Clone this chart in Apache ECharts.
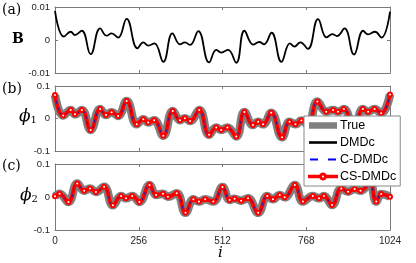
<!DOCTYPE html>
<html><head><meta charset="utf-8">
<script src="https://cdn.jsdelivr.net/npm/echarts@6/dist/echarts.min.js"></script>
<style>html,body{margin:0;padding:0;background:#fff}#c{width:416px;height:263px}</style>
</head><body><div id="c"></div><script>
// x ticks
const xTicks = [0, 256, 512, 768, 1024];
const yTicksB = [-0.01, 0, 0.01];
const yTicksPhi = [-0.1, 0, 0.1];
const legendNames = ['True', 'DMDc', 'C-DMDc', 'CS-DMDc'];

// Panel (a): B (read key points: index, value)
const bIdx = [0, 27, 48, 61, 82, 109, 138, 158, 173, 193, 219, 252, 270, 285, 304, 331, 359, 382, 397, 413, 438, 471, 493, 508, 529, 554, 579, 606, 624, 639, 662, 692, 718, 732, 750, 773, 804, 830, 848, 862, 885, 914, 942, 957, 978, 998, 1024];
const bVal = [0.0088, 0.0010, 0.0025, 0.0015, 0.0028, -0.0043, 0.0035, 0.0013, 0.0020, 0.0007, 0.0064, -0.0025, -0.0007, -0.0017, -0.0010, -0.0066, 0.0020, -0.0013, -0.0007, -0.0015, 0.0027, -0.0068, -0.0030, -0.0038, -0.0030, -0.0069, 0.0028, -0.0014, -0.0006, -0.0013, 0.0022, -0.0066, -0.0010, -0.0020, -0.0007, -0.0027, 0.0063, 0.0008, 0.0018, 0.0012, 0.0035, -0.0044, 0.0028, 0.0017, 0.0025, 0.0007, 0.0086];

// Panel (b): phi_1
const p1Idx = [0, 25, 48, 61, 82, 109, 138, 156, 173, 193, 219, 250, 270, 285, 303, 331, 360, 382, 397, 413, 441, 471, 493, 508, 527, 554, 579, 605, 621, 636, 661, 694, 717, 735, 753, 773, 802, 829, 850, 865, 883, 914, 941, 957, 977, 997, 1024];
const p1Val = [0.072, 0.009, 0.026, 0.013, 0.026, -0.035, 0.029, 0.011, 0.019, 0.008, 0.054, -0.018, -0.002, -0.012, -0.005, -0.053, 0.023, -0.005, 0.001, -0.008, 0.026, -0.050, -0.028, -0.035, -0.028, -0.055, 0.020, -0.020, -0.010, -0.018, 0.018, -0.058, -0.010, -0.018, -0.006, -0.020, 0.052, 0.021, 0.026, 0.021, 0.029, -0.035, 0.029, 0.021, 0.029, 0.016, 0.074];

// Panel (c): phi_2
const p2Idx = [0, 14, 41, 68, 89, 107, 125, 150, 177, 202, 217, 236, 258, 289, 309, 330, 345, 372, 399, 423, 440, 459, 484, 512, 534, 549, 569, 590, 621, 649, 666, 687, 702, 733, 758, 788, 807, 822, 847, 875, 896, 916, 934, 962, 982, 997, 1024];
const p2Val = [0.002, 0.010, -0.015, 0.041, 0.019, 0.026, 0.015, 0.031, -0.025, 0.003, -0.004, 0.003, -0.015, 0.036, 0.006, 0.010, 0.001, 0.011, -0.048, -0.007, -0.014, -0.007, -0.014, 0.030, -0.009, -0.005, -0.011, -0.004, -0.048, 0.003, -0.007, 0.006, -0.001, 0.036, -0.014, 0.003, -0.004, 0.003, -0.024, 0.026, 0.016, 0.024, 0.019, 0.041, -0.014, 0.009, 0.001];

const pairs = (ix, v) => ix.map((x, k) => [x, v[k]]);
const bData = pairs(bIdx, bVal), p1Data = pairs(p1Idx, p1Val), p2Data = pairs(p2Idx, p2Val);

const AX = '#7a7a7a', TXT = '#262626';
const grids = [
  { left: 55, width: 335, top: 7, height: 66 },
  { left: 55, width: 335, top: 86, height: 65 },
  { left: 55, width: 335, top: 164, height: 66 }
];
const xAxes = [], yAxes = [];
grids.forEach((g, k) => {
  const base = { type: 'value', gridIndex: k, min: xTicks[0], max: xTicks[xTicks.length - 1], interval: xTicks[1] - xTicks[0],
    axisLine: { show: true, onZero: false, lineStyle: { color: AX, width: 1 } }, axisTick: { inside: true, length: 3, lineStyle: { color: AX } }, splitLine: { show: false } };
  xAxes.push(Object.assign({}, base, { position: 'bottom', axisLabel: { show: k === 2, fontSize: 10, color: TXT, fontFamily: 'Liberation Sans', margin: 6, formatter: v => String(v) } }));
  xAxes.push(Object.assign({}, base, { position: 'top', axisLabel: { show: false } }));
  const yt = k === 0 ? yTicksB : yTicksPhi;
  const ybase = { type: 'value', gridIndex: k, min: yt[0], max: yt[2], interval: yt[2],
    axisLine: { show: true, onZero: false, lineStyle: { color: AX, width: 1 } }, axisTick: { inside: true, length: 3, lineStyle: { color: AX } }, splitLine: { show: false } };
  yAxes.push(Object.assign({}, ybase, { position: 'left', axisLabel: { fontSize: 9.5, color: TXT, fontFamily: 'Liberation Sans', margin: 5,
    formatter: v => Math.abs(v) < 1e-9 ? '0' : String(+v.toFixed(3)) } }));
  yAxes.push(Object.assign({}, ybase, { position: 'right', axisLabel: { show: false } }));
});

function panelSeries(k, data) {
  return [
    { name: legendNames[0], type: 'line', xAxisIndex: 2 * k, yAxisIndex: 2 * k, data, smooth: 0.45, showSymbol: false, symbol: 'none',
      lineStyle: { color: '#808080', width: 8.5 }, itemStyle: { color: '#808080' }, z: 2 },
    { name: legendNames[1], type: 'line', xAxisIndex: 2 * k, yAxisIndex: 2 * k, data, smooth: 0.45, showSymbol: false, symbol: 'none',
      lineStyle: { color: '#000', width: 2 }, itemStyle: { color: '#000' }, z: 2 },
    { name: legendNames[3], type: 'line', xAxisIndex: 2 * k, yAxisIndex: 2 * k, data, smooth: 0.45, showSymbol: true, symbol: 'emptyCircle', symbolSize: 4,
      lineStyle: { color: '#ff0000', width: 3.8 }, itemStyle: { color: '#ff0000', borderColor: '#ff0000', borderWidth: 1 }, z: 3 },
    { name: legendNames[2], type: 'line', xAxisIndex: 2 * k, yAxisIndex: 2 * k, data, smooth: 0.45, showSymbol: false, symbol: 'none',
      lineStyle: { color: '#1a1aa8', width: 1, type: [3, 3] }, itemStyle: { color: '#0000ff' }, z: 3 }
  ];
}

const series = [
  { name: 'B', type: 'line', xAxisIndex: 0, yAxisIndex: 0, data: bData, smooth: 0.45, showSymbol: false, symbol: 'none',
    lineStyle: { color: '#000', width: 1.8 } }
].concat(panelSeries(1, p1Data), panelSeries(2, p2Data));

// legend icon for the line-with-circle marker (ring built from polygon: outer clockwise, inner counter-clockwise)
function ringIcon() {
  const cx = 14, cy = 3, ro = 3, ri = 2, n = 20;
  let s = 'path://M0,2.3h10.6v1.4h-10.6z M17.4,2.3h10.6v1.4h-10.6z ';
  for (let j = 0; j < n; j++) { const a = 2 * Math.PI * j / n; s += (j ? 'L' : 'M') + (cx + ro * Math.cos(a)).toFixed(2) + ',' + (cy + ro * Math.sin(a)).toFixed(2) + ' '; }
  s += 'Z ';
  for (let j = 0; j < n; j++) { const a = -2 * Math.PI * j / n; s += (j ? 'L' : 'M') + (cx + ri * Math.cos(a)).toFixed(2) + ',' + (cy + ri * Math.sin(a)).toFixed(2) + ' '; }
  return s + 'Z';
}

const serif = 'DejaVu Serif';
const chart = echarts.init(document.getElementById('c'), null, { renderer: 'canvas' });
chart.setOption({
  animation: false,
  backgroundColor: '#fff',
  grid: grids,
  xAxis: xAxes,
  yAxis: yAxes,
  series,
  legend: {
    z: 20,
    orient: 'vertical', left: 304, top: 116, padding: [3, 4, 3, 4], itemGap: 4, itemWidth: 28, itemHeight: 12,
    backgroundColor: '#fff', borderColor: '#888', borderWidth: 1, borderRadius: 0,
    textStyle: { fontFamily: 'Liberation Sans', fontSize: 12.5, color: '#000', padding: [0, 0, 0, -2] },
    data: [
      { name: 'True', icon: 'path://M0,0h28v6.5h-28z', itemStyle: { color: '#808080' } },
      { name: 'DMDc', icon: 'path://M0,0h28v2.6h-28z', itemStyle: { color: '#000' } },
      { name: 'C-DMDc', icon: 'path://M1,0h8v2h-8z M19,0h8v2h-8z M0,0h0.01v2h-0.01z M27.99,0h0.01v2h-0.01z', itemStyle: { color: '#0000ff' } },
      { name: 'CS-DMDc', icon: ringIcon(), itemStyle: { color: '#ff0000' } }
    ]
  },
  graphic: [
    { type: 'text', left: 2, top: 3, style: { text: '(a)', font: '14px "DejaVu Serif"', fill: '#000' } },
    { type: 'text', left: 2, top: 82, style: { text: '(b)', font: '14px "DejaVu Serif"', fill: '#000' } },
    { type: 'text', left: 2, top: 159, style: { text: '(c)', font: '14px "DejaVu Serif"', fill: '#000' } },
    { type: 'text', left: 12, top: 32, style: { text: 'B', font: 'bold 14px "DejaVu Serif"', fill: '#000' } },
    { type: 'text', left: 19, top: 108, style: { text: '{p|ϕ}{s|1}', rich: { p: { fontFamily: serif, fontStyle: 'italic', fontSize: 17, fill: '#000' }, s: { fontFamily: serif, fontSize: 10, fill: '#000', padding: [8, 0, 0, 0] } } } },
    { type: 'text', left: 20, top: 187, style: { text: '{p|ϕ}{s|2}', rich: { p: { fontFamily: serif, fontStyle: 'italic', fontSize: 17, fill: '#000' }, s: { fontFamily: serif, fontSize: 10, fill: '#000', padding: [8, 0, 0, 0] } } } },
    { type: 'text', left: 218, top: 246, style: { text: 'i', font: 'italic 15px "DejaVu Serif"', fill: '#000' } }
  ]
});
</script></body></html>
